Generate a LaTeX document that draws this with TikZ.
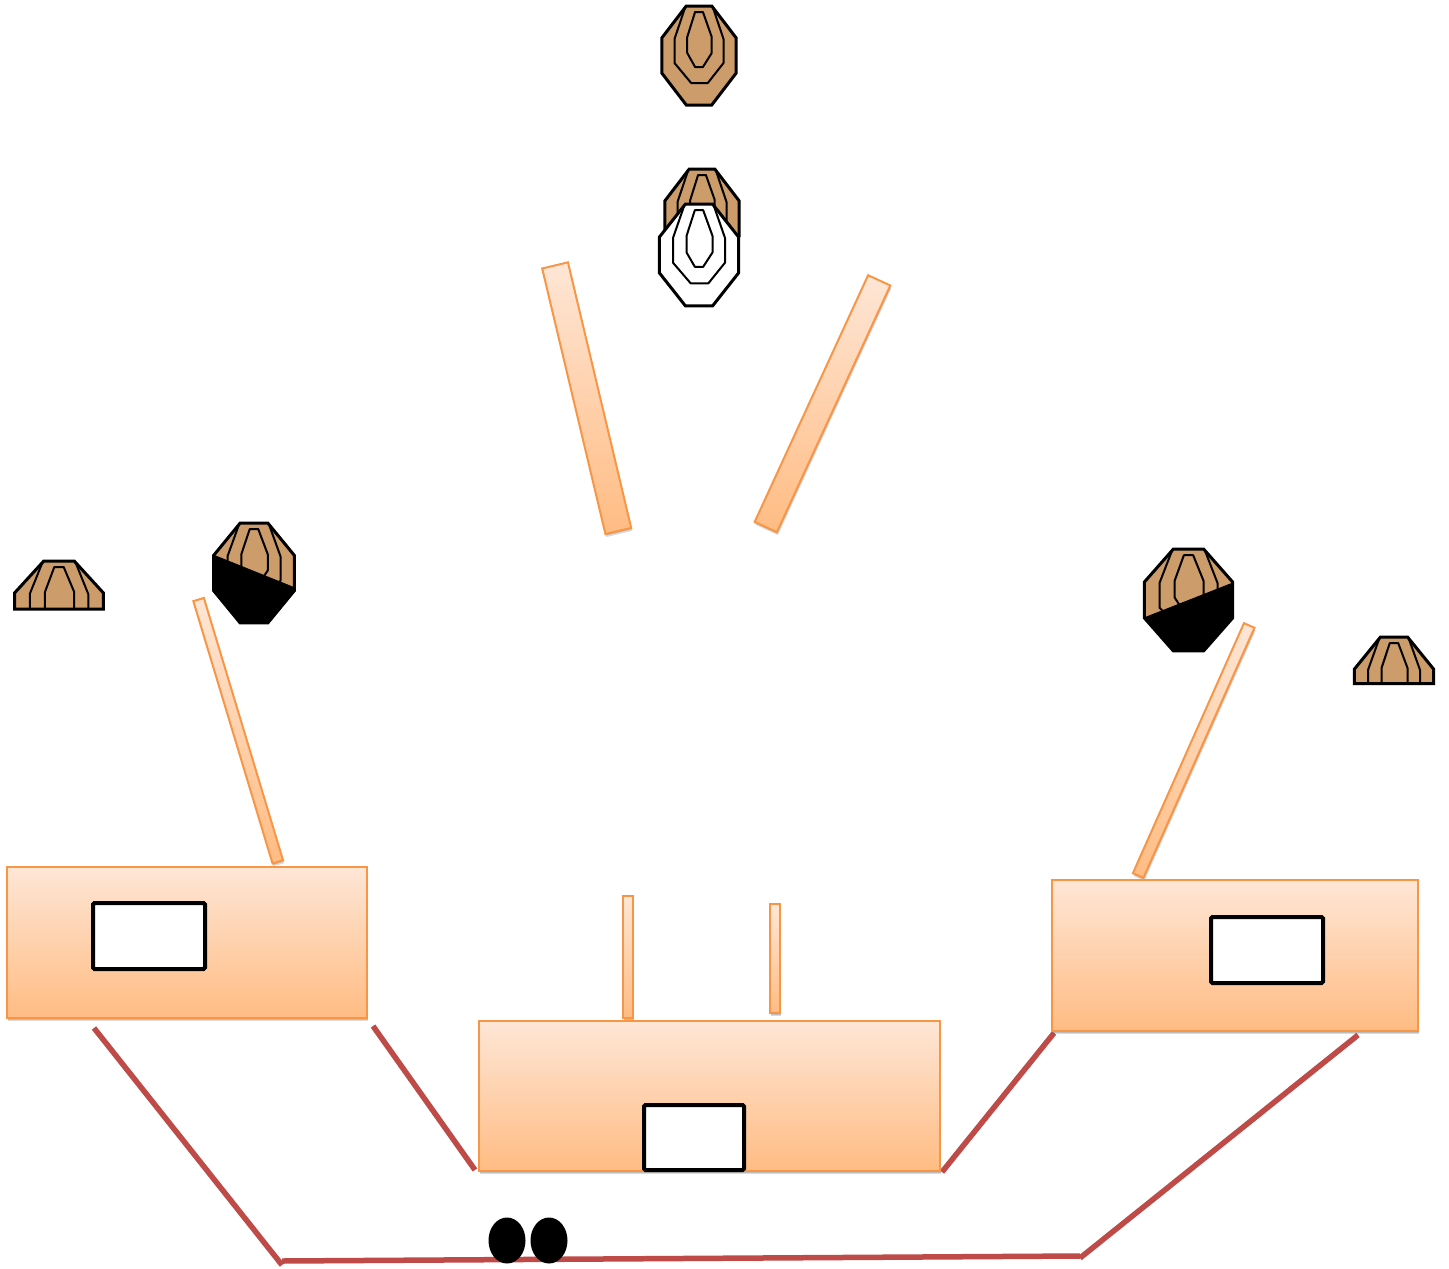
\documentclass[tikz,border=0pt]{standalone}
\usetikzlibrary{shadows,shapes.geometric}
\definecolor{tan}{HTML}{CC9C6A}
\definecolor{barline}{HTML}{F79646}
\definecolor{gradtop}{HTML}{FEE6D6}
\definecolor{gradbot}{HTML}{FFBC83}
\definecolor{wire}{HTML}{BE4B48}
\tikzset{
  orangebox/.style={draw=barline,line width=2pt,top color=gradtop,bottom color=gradbot,
    inner sep=0pt,outer sep=0pt,
    double copy shadow={shadow xshift=.5pt,shadow yshift=-1.5pt,opacity=.14,fill=black,draw=none},
  },
  screenbox/.style={draw=black,line width=4pt,fill=white,rounded corners=1.5pt,inner sep=0pt,outer sep=0pt},
  wireline/.style={draw=wire,line width=5.5pt},
  headdot/.style={ellipse,fill=black,inner sep=0pt,minimum width=37pt,minimum height=46pt},
  outerline/.style={draw=black,line width=3pt,line join=miter},
  innerline/.style={draw=black,line width=2pt,line join=round},
  blackpart/.style={draw=black,fill=black,line width=1pt,line join=round}
}
\newcommand{\ringlines}{%
  \draw[innerline] (-14,1)--(-25,33)--(-25,57)--(-8,77)--(9,77)--(25,57)--(25,33)--(14,1);
  \draw[innerline] (-4,6)--(4,6)--(13,31)--(13,47)--(4,61)--(-4,61)--(-12,47)--(-12,31)--cycle;
}
\newcommand{\fulltarget}[5]{%
  \begin{scope}[shift={(#1,#2)},xscale=#3,yscale=#4]
    \path[fill=#5] (-13,0)--(13,0)--(38,32)--(38,67)--(13,99)--(-13,99)--(-38,67)--(-38,32)--cycle;
    \ringlines
    \draw[outerline] (-13,0)--(13,0)--(38,32)--(38,67)--(13,99)--(-13,99)--(-38,67)--(-38,32)--cycle;
  \end{scope}}
\newcommand{\cuttarget}[4]{%
  \begin{scope}[shift={(#1,#2)},xscale=#3]
    \path[fill=tan] (-13,0)--(13,0)--(38,32)--(38,#4)--(-38,#4)--(-38,32)--cycle;
    \begin{scope}
      \clip (-38,0) rectangle (38,#4);
      \ringlines
    \end{scope}
    \draw[outerline] (-13,0)--(13,0)--(38,32)--(38,#4)--(-38,#4)--(-38,32)--cycle;
  \end{scope}}
\begin{document}
\begin{tikzpicture}[x=1pt,y=-1pt]
\useasboundingbox (0,0) rectangle (1449,1269);
% wires
\coordinate (w1) at (94,1028);
\coordinate (w2) at (282,1265);
\coordinate (w3) at (282,1261);
\coordinate (w4) at (1080,1256);
\coordinate (w5) at (1358,1035);
\coordinate (w6) at (1080,1258);
\coordinate (w7) at (373,1026);
\coordinate (w8) at (475,1170);
\coordinate (w9) at (1054,1033);
\coordinate (w10) at (942,1172);
\draw[wireline] (w1)--(w2);
\draw[wireline] (w3)--(w4);
\draw[wireline] (w6)--(w5);
\draw[wireline] (w7)--(w8);
\draw[wireline] (w9)--(w10);
% people
\node[headdot] (h1) at (507,1240.5) {};
\node[headdot] (h2) at (549,1240.5) {};
% targets
\fulltarget{699}{6}{.98}{1}{tan}
\fulltarget{702}{169}{.98}{1}{tan}
\fulltarget{699}{204}{1.04}{1.03}{white}
\cuttarget{59}{561}{1.17}{48}
\fulltarget{254}{523}{1.06}{1.01}{tan}
\path[blackpart] (213,555)--(295,588)--(295,591)--(268,623)--(240,623)--(213,591)--cycle;
\fulltarget{1188.5}{549}{1.16}{1.03}{tan}
\path[blackpart] (1144,618)--(1233,583)--(1233,618)--(1203,650.5)--(1173,650.5)--cycle;
\cuttarget{1394}{637}{1.04}{46.5}
% bars
\node[orangebox,minimum width=26.5pt,minimum height=273pt,rotate=13.4] (barA) at (586.7,398.2) {};
\node[orangebox,minimum width=24.5pt,minimum height=271.5pt,rotate=-24.7] (barB) at (822.5,403.7) {};
\node[orangebox,minimum width=11pt,minimum height=274pt,rotate=16.8] (barC) at (238.2,730.7) {};
\node[orangebox,minimum width=11.5pt,minimum height=273.6pt,rotate=-23.95] (barD) at (1193.7,750.5) {};
\node[orangebox,minimum width=10pt,minimum height=122pt] (barE) at (628,957) {};
\node[orangebox,minimum width=10pt,minimum height=109pt] (barF) at (775,958.5) {};
% desks
\node[orangebox,minimum width=360pt,minimum height=151pt] (deskL) at (187,942.5) {};
\node[orangebox,minimum width=366pt,minimum height=151pt] (deskR) at (1235,955.5) {};
\node[orangebox,minimum width=461pt,minimum height=150pt] (deskC) at (709.5,1096) {};
% screens
\node[screenbox,minimum width=112pt,minimum height=66pt] (scrL) at (149,936) {};
\node[screenbox,minimum width=112pt,minimum height=66pt] (scrR) at (1267,950) {};
\node[screenbox,minimum width=100pt,minimum height=65pt] (scrC) at (694,1137.5) {};
\end{tikzpicture}
\end{document}
